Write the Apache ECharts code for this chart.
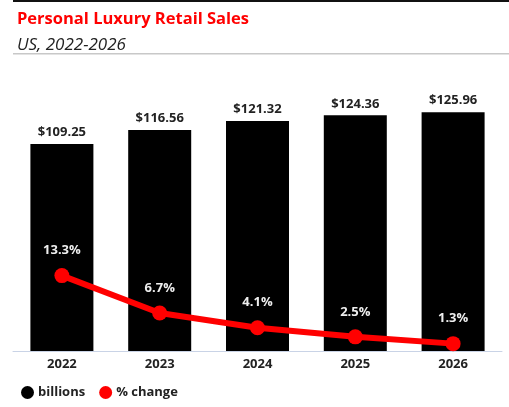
<!DOCTYPE html>
<html><head><meta charset="utf-8">
<script src="https://cdn.jsdelivr.net/npm/echarts@6/dist/echarts.min.js"></script>
<style>html,body{margin:0;padding:0;background:#fff}#c{width:509px;height:407px}</style>
</head><body><div id="c"></div>
<script>
const categories = ['2022','2023','2024','2025','2026'];
const billions = [109.25, 116.56, 121.32, 124.36, 125.96];
const pctChange = [13.3, 6.7, 4.1, 2.5, 1.3];
const FONT = 'Open Sans';
const chart = echarts.init(document.getElementById('c'), null, {renderer:'canvas'});
chart.setOption({
  animation:false,
  textStyle:{fontFamily:FONT},
  title:[
    {text:'Personal Luxury Retail Sales', left:12, top:6, textStyle:{color:'#ff0000', fontSize:16.5, fontWeight:'bold', fontFamily:FONT}},
    {text:'US, 2022-2026', left:12, top:32, textStyle:{color:'#222', fontSize:17, fontStyle:'italic', fontWeight:'normal', fontFamily:FONT}}
  ],
  graphic:[
    {type:'rect', shape:{x:13,y:0,width:496,height:2}, style:{fill:'#111'}},
    {type:'rect', shape:{x:13,y:53,width:496,height:1.5}, style:{fill:'#c8c8c8'}}
  ],
  legend:{
    left:16, top:381, itemWidth:13, itemHeight:13, itemGap:14,
    icon:'circle',
    textStyle:{fontSize:13, fontWeight:'bold', color:'#222', fontFamily:FONT, padding:[0,0,0,-1]},
    data:[{name:'billions', itemStyle:{color:'#000'}},{name:'% change', itemStyle:{color:'#ff0000'}}]
  },
  grid:{left:13, right:7, top:80, bottom:56, containLabel:false},
  xAxis:{type:'category', data:categories,
    axisLine:{lineStyle:{color:'#c9d3e6', width:1}}, axisTick:{show:false},
    axisLabel:{color:'#222', fontSize:13, fontWeight:'bold', margin:7, fontFamily:FONT}},
  yAxis:[
    {type:'value', min:0, max:143, show:false, splitLine:{show:false}},
    {type:'value', min:0, max:47.8, show:false, splitLine:{show:false}}
  ],
  series:[
    {name:'billions', type:'bar', data:billions, barWidth:63, itemStyle:{color:'#000'},
      label:{show:true, position:'top', distance:5, color:'#222', fontSize:13, fontWeight:'bold', fontFamily:FONT,
        formatter:p=>'$'+p.value.toFixed(2)}},
    {name:'% change', type:'line', yAxisIndex:1, data:pctChange, symbol:'circle', symbolSize:15,
      lineStyle:{color:'#ff0000', width:6}, itemStyle:{color:'#ff0000'},
      label:{show:true, position:'top', distance:11, color:'#eeeeee', fontSize:13, fontWeight:'bold', fontFamily:FONT,
        formatter:p=>p.value.toFixed(1)+'%'}}
  ]
});
</script></body></html>
